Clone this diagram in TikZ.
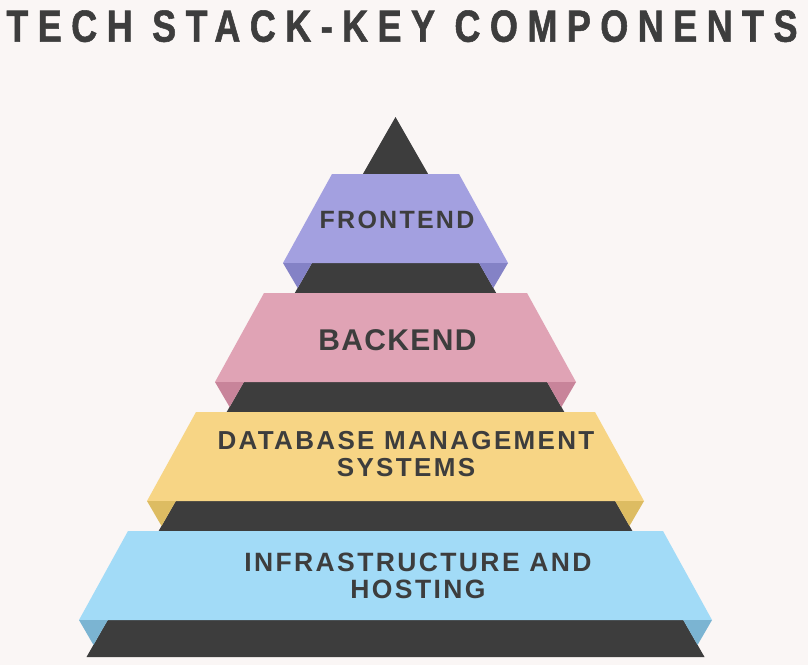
\documentclass[tikz,border=0pt]{standalone}
\usepackage{fontspec}
\setmainfont{Liberation Sans}
\newfontfamily\titlefont[FakeStretch=0.8,FakeBold=1.2,LetterSpace=21]{Liberation Sans}
\newfontfamily\bandfont[LetterSpace=9]{Liberation Sans}

\definecolor{bg}{HTML}{FAF6F5}
\definecolor{ink}{HTML}{3D3D3D}
\definecolor{frontc}{HTML}{A3A0E0}
\definecolor{frontf}{HTML}{8482C6}
\definecolor{backc}{HTML}{E0A3B5}
\definecolor{backf}{HTML}{C8849A}
\definecolor{dbc}{HTML}{F7D585}
\definecolor{dbf}{HTML}{DDBC62}
\definecolor{infc}{HTML}{A2DBF7}
\definecolor{inff}{HTML}{7BB4D2}

\tikzset{
  label/.style={text=ink, inner sep=0, align=center},
}

\begin{document}
\begin{tikzpicture}[x=1pt,y=-1pt]

    % Background
    \fill[bg] (0,0) rectangle (808,665);

    % Title
    \node[label, anchor=base, font=\fontsize{45}{45}\selectfont\titlefont\bfseries] (title) at (402,41.7) {TECH STACK-KEY COMPONENTS};

    % Dark pyramid behind the bands
    \fill[ink] (395.5,117) -- (704.5,657) -- (86.5,657) -- cycle;

    % Bands with folded ends
    \foreach \i/\face/\fold in {0/frontc/frontf, 1/backc/backf, 2/dbc/dbf, 3/infc/inff} {
        \pgfmathsetmacro\yt{174+119*\i}
        \pgfmathsetmacro\yb{\yt+89}
        \pgfmathsetmacro\ht{63.5+68*\i}
        \pgfmathsetmacro\hb{\ht+49}
        \pgfmathsetmacro\pa{0.572*(\yb-117)}
        \pgfmathsetmacro\pb{0.572*(\yb+25-117)}
        \fill[\face] (395.5-\ht,\yt) -- (395.5+\ht,\yt) -- (395.5+\hb,\yb) -- (395.5-\hb,\yb) -- cycle;
        \fill[\fold] (395.5-\hb,\yb) -- (395.5-\pa,\yb) -- (395.5-\pb,\yb+25) -- cycle;  % left fold
        \fill[\fold] (395.5+\hb,\yb) -- (395.5+\pa,\yb) -- (395.5+\pb,\yb+25) -- cycle;  % right fold
    }

    % Band labels
    \node[label, anchor=base, font=\fontsize{25}{27}\selectfont\bandfont\bfseries] (frontend) at (397,228) {FRONTEND};
    \node[label, anchor=base, font=\fontsize{30}{32}\selectfont\bandfont\bfseries\addfontfeature{LetterSpace=4.5}] (backend) at (397.5,350) {BACKEND};
    \node[label, font=\fontsize{26}{27}\selectfont\bandfont\bfseries] (database) at (406,454.5) {DATABASE MANAGEMENT\\SYSTEMS};
    \node[label, font=\fontsize{26.5}{27}\selectfont\bandfont\bfseries] (hosting) at (418,576) {INFRASTRUCTURE AND\\HOSTING};

\end{tikzpicture}
\end{document}
